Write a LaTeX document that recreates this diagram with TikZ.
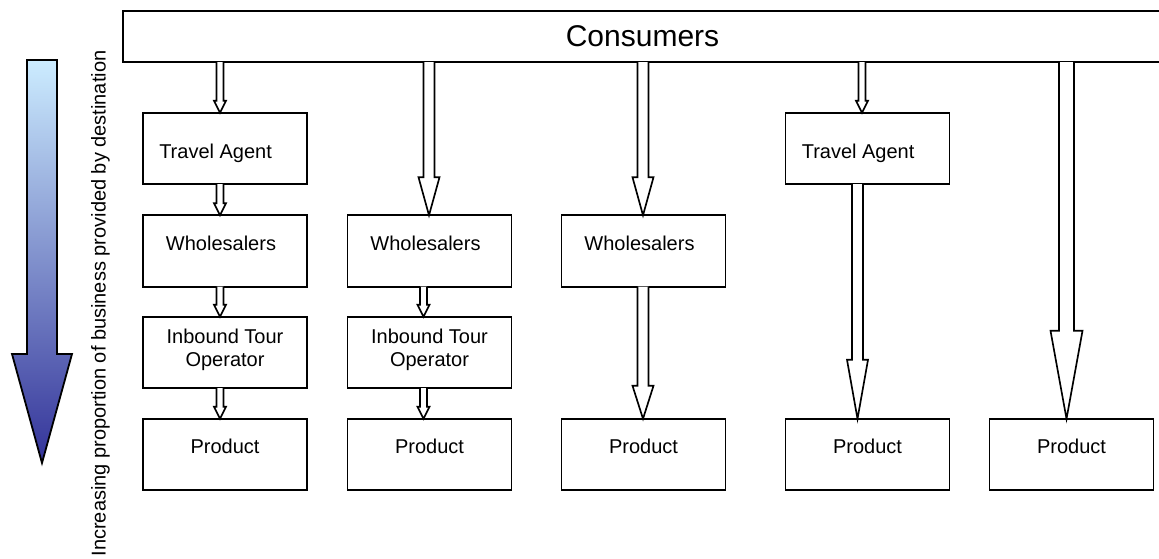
\documentclass[tikz,border=0pt]{standalone}
\usepackage{fontspec}
\setmainfont{Liberation Sans}
\usetikzlibrary{calc}
\definecolor{gtop}{RGB}{204,236,255}
\definecolor{gbot}{RGB}{51,51,153}
\tikzset{
  box/.style={draw=black, line width=1.35pt, fill=white, minimum width=123pt, minimum height=53.6pt, inner sep=0pt, outer sep=0pt},
  lbl/.style={inner sep=0pt, font=\fontsize{15pt}{17.25pt}\selectfont},
  blk/.style={draw=black, line width=1.25pt, fill=white, line join=miter},
}
% #1 start coordinate (gives x), #2 tip coordinate (gives y), #3 shaft half width, #4 head half width, #5 head length (px)
\newcommand\blockarr[5]{%
  \draw[blk] let \p1=(#1), \p2=(#2) in
    (\x1-#3*0.75pt,\y1) -- (\x1-#3*0.75pt,\y2+#5*0.75pt) -- (\x1-#4*0.75pt,\y2+#5*0.75pt)
    -- (\x1,\y2) -- (\x1+#4*0.75pt,\y2+#5*0.75pt) -- (\x1+#3*0.75pt,\y2+#5*0.75pt) -- (\x1+#3*0.75pt,\y1);
}
\newcommand\smallarr[2]{\blockarr{#1}{#2}{3.5}{6}{12}}
\begin{document}
\begin{tikzpicture}[x=0.75pt,y=-0.75pt]
\useasboundingbox (0,0) rectangle (1159,558);

% side gradient arrow
\shade[top color=gtop, bottom color=gbot, draw=black, line width=1.35pt]
  (27,60) -- (27,354) -- (12,354) -- (42,463) -- (72,354) -- (57,354) -- (57,60) -- cycle;
\node[lbl, rotate=90, anchor=base] (side) at (105.5,303.5) {Increasing proportion of business provided by destination};

% consumers bar
\node[box, minimum width=779.25pt, minimum height=38.25pt, font=\fontsize{22.5pt}{26pt}\selectfont] (cons) at (642.5,36.5) {Consumers};

% column 1
\node[box] (ta1) at (225,148.5) {};
\node[box] (w1)  at (225,251) {};
\node[box] (i1)  at (225,352.5) {};
\node[box] (p1)  at (225,454.5) {};
% column 2
\node[box] (w2)  at (429.5,251) {};
\node[box] (i2)  at (429.5,352.5) {};
\node[box] (p2)  at (429.5,454.5) {};
% column 3
\node[box] (w3)  at (643.5,251) {};
\node[box] (p3)  at (643.5,454.5) {};
% column 4
\node[box] (ta4) at (867.5,148.5) {};
\node[box] (p4)  at (867.5,454.5) {};
% column 5
\node[box] (p5)  at (1071.5,454.5) {};

% labels
\node[lbl, anchor=base west] at ($(ta1.west)+(16,9.5)$) {Travel Agent};
\node[lbl, anchor=base west] at ($(ta4.west)+(16,9.5)$) {Travel Agent};
\foreach \b in {w1,w2,w3}{
  \node[lbl, anchor=base] at ($(\b.center)+(-4,-1)$) {Wholesalers};
}
\foreach \b in {i1,i2}{
  \node[lbl, anchor=north, align=center] at ($(\b.center)+(0,-23.5)$) {Inbound Tour\\Operator};
}
\foreach \b in {p1,p2,p3,p4,p5}{
  \node[lbl, anchor=base] at ($(\b.center)+(0,-1)$) {Product};
}

% column 1 arrows
\smallarr{$(ta1.north |- cons.south)+(-5,0)$}{ta1.north}
\smallarr{$(ta1.south)+(-5,0)$}{w1.north}
\smallarr{$(w1.south)+(-5,0)$}{i1.north}
\smallarr{$(i1.south)+(-5,0)$}{p1.north}
% column 2 arrows
\blockarr{$(w2.north |- cons.south)+(-0.5,0)$}{w2.north}{5.5}{10.5}{38}
\smallarr{$(w2.south)+(-6,0)$}{i2.north}
\smallarr{$(i2.south)+(-6,0)$}{p2.north}
% column 3 arrows
\blockarr{$(w3.north |- cons.south)+(-0.5,0)$}{w3.north}{5.5}{10.5}{38}
\blockarr{$(w3.south)+(-0.5,0)$}{p3.north}{5.5}{10.5}{33}
% column 4 arrows
\smallarr{$(ta4.north |- cons.south)+(-5.5,0)$}{ta4.north}
\blockarr{$(ta4.south)+(-10,0)$}{p4.north}{5.5}{10.5}{59}
% column 5 arrow
\blockarr{$(p5.north |- cons.south)+(-5,0)$}{p5.north}{7.5}{16}{88}
\end{tikzpicture}
\end{document}
